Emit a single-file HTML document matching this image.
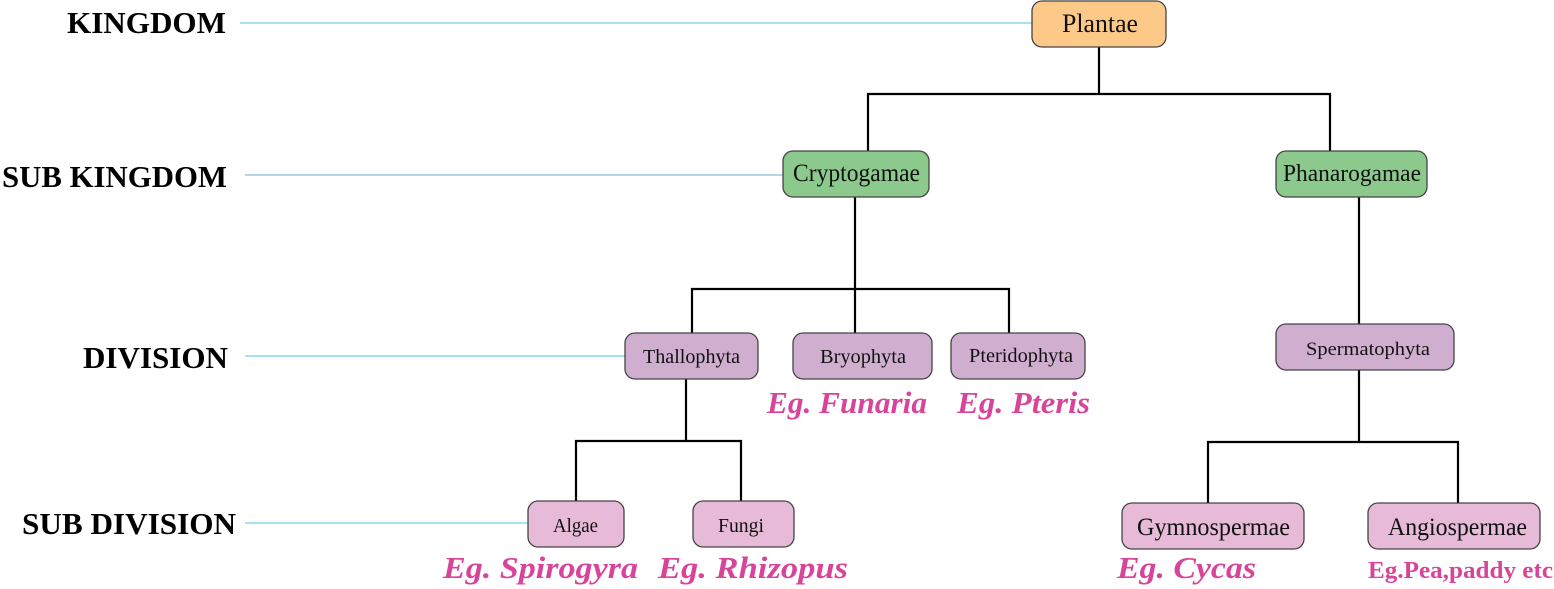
<!DOCTYPE html>
<html><head><meta charset="utf-8"><style>
html,body{margin:0;padding:0;background:#fff;width:1554px;height:589px;overflow:hidden}
svg{display:block}
.lbl{font-family:"Liberation Serif",serif;font-weight:bold;font-size:31px;fill:#000}
.bt{font-family:"Liberation Serif",serif;fill:#111}
.eg{font-family:"Liberation Serif",serif;font-style:italic;font-weight:bold;font-size:31px;fill:#d8449a}
.box{stroke:#444;stroke-width:1.3}
.ln{stroke:#000;stroke-width:2.2;fill:none}
.bl{stroke:#8fd6ea;stroke-width:1.5}
</style></head><body>
<svg width="1554" height="589" viewBox="0 0 1554 589" xmlns="http://www.w3.org/2000/svg">
<text class="lbl" x="67" y="33" textLength="159" lengthAdjust="spacingAndGlyphs">KINGDOM</text>
<text class="lbl" x="2" y="187" textLength="225" lengthAdjust="spacingAndGlyphs">SUB KINGDOM</text>
<text class="lbl" x="83" y="368" textLength="145" lengthAdjust="spacingAndGlyphs">DIVISION</text>
<text class="lbl" x="22" y="534" textLength="214" lengthAdjust="spacingAndGlyphs">SUB DIVISION</text>
<line class="bl" x1="240" y1="23" x2="1032" y2="23"/>
<line class="bl" x1="245" y1="175" x2="783" y2="175" style="stroke:#9cc9d8"/>
<line class="bl" x1="245" y1="356" x2="625" y2="356"/>
<line class="bl" x1="245" y1="523" x2="528" y2="523"/>
<path class="ln" d="M1099 47V94M868 151V94H1330V151"/>
<path class="ln" d="M855 197V333M692 333V289H1009V333"/>
<path class="ln" d="M686 379V441M576 501V441H741V501"/>
<path class="ln" d="M1359 197V324M1359 370V442M1208 503V442H1458V503"/>
<rect class="box" x="1032" y="1" width="134" height="46" rx="10" fill="#fdc988"/>
<text class="bt" x="1062" y="32" font-size="26" textLength="76" lengthAdjust="spacingAndGlyphs">Plantae</text>
<rect class="box" x="783" y="151" width="146" height="46" rx="10" fill="#8bc98c"/>
<text class="bt" x="793" y="181" font-size="25" textLength="127" lengthAdjust="spacingAndGlyphs">Cryptogamae</text>
<rect class="box" x="1276" y="151" width="151" height="46" rx="10" fill="#8bc98c"/>
<text class="bt" x="1283" y="181" font-size="24" textLength="138" lengthAdjust="spacingAndGlyphs">Phanarogamae</text>
<rect class="box" x="625" y="333" width="133" height="46" rx="10" fill="#d0aed0"/>
<text class="bt" x="643" y="363" font-size="20" textLength="97" lengthAdjust="spacingAndGlyphs">Thallophyta</text>
<rect class="box" x="793" y="333" width="139" height="46" rx="10" fill="#d0aed0"/>
<text class="bt" x="820" y="363" font-size="20" textLength="86" lengthAdjust="spacingAndGlyphs">Bryophyta</text>
<rect class="box" x="951" y="333" width="134" height="46" rx="10" fill="#d0aed0"/>
<text class="bt" x="969" y="362" font-size="20" textLength="104" lengthAdjust="spacingAndGlyphs">Pteridophyta</text>
<rect class="box" x="1276" y="324" width="178" height="46" rx="10" fill="#d0aed0"/>
<text class="bt" x="1306" y="355" font-size="19" textLength="124" lengthAdjust="spacingAndGlyphs">Spermatophyta</text>
<rect class="box" x="528" y="501" width="96" height="46" rx="10" fill="#e7bad8"/>
<text class="bt" x="553" y="532" font-size="20" textLength="45" lengthAdjust="spacingAndGlyphs">Algae</text>
<rect class="box" x="693" y="501" width="101" height="46" rx="10" fill="#e7bad8"/>
<text class="bt" x="718" y="532" font-size="20" textLength="46" lengthAdjust="spacingAndGlyphs">Fungi</text>
<rect class="box" x="1122" y="503" width="182" height="46" rx="10" fill="#e7bad8"/>
<text class="bt" x="1137" y="535" font-size="25" textLength="153" lengthAdjust="spacingAndGlyphs">Gymnospermae</text>
<rect class="box" x="1368" y="503" width="172" height="46" rx="10" fill="#e7bad8"/>
<text class="bt" x="1388" y="535" font-size="25" textLength="139" lengthAdjust="spacingAndGlyphs">Angiospermae</text>
<text class="eg" x="767" y="413" textLength="160" lengthAdjust="spacingAndGlyphs">Eg. Funaria</text>
<text class="eg" x="957" y="413" textLength="133" lengthAdjust="spacingAndGlyphs">Eg. Pteris</text>
<text class="eg" x="443" y="578" textLength="195" lengthAdjust="spacingAndGlyphs">Eg. Spirogyra</text>
<text class="eg" x="658" y="578" textLength="190" lengthAdjust="spacingAndGlyphs">Eg. Rhizopus</text>
<text class="eg" x="1117" y="578" textLength="139" lengthAdjust="spacingAndGlyphs">Eg. Cycas</text>
<text x="1368" y="578" font-family="Liberation Serif,serif" font-weight="bold" font-size="24" fill="#d8449a" textLength="185" lengthAdjust="spacingAndGlyphs">Eg.Pea,paddy etc</text>
</svg>
</body></html>
